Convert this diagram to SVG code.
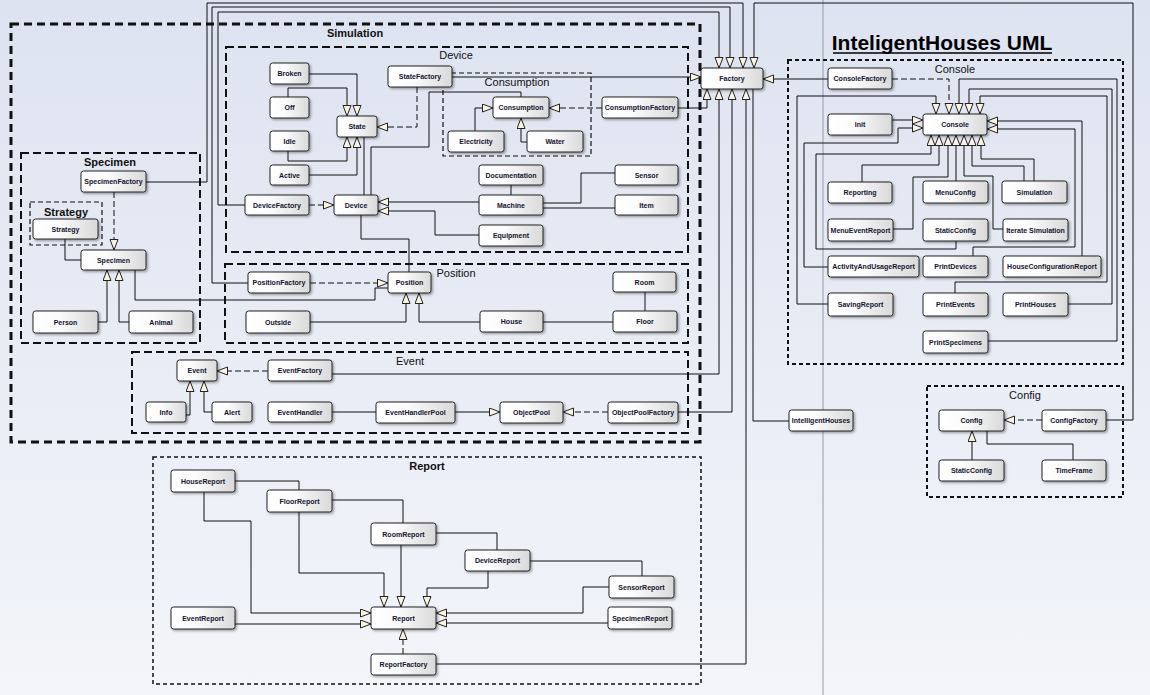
<svg xmlns="http://www.w3.org/2000/svg" width="1150" height="695" viewBox="0 0 1150 695">
<defs>
<linearGradient id="bg" x1="0" y1="0" x2="0" y2="1"><stop offset="0" stop-color="#dde3f0"/><stop offset="1" stop-color="#f3f5fa"/></linearGradient>
<linearGradient id="ng" x1="0" y1="0" x2="1" y2="0"><stop offset="0" stop-color="#ffffff"/><stop offset="0.4" stop-color="#fbfbfb"/><stop offset="1" stop-color="#d9d9d9"/></linearGradient>
<filter id="sh" x="-10%" y="-20%" width="130%" height="160%"><feDropShadow dx="1.5" dy="1.5" stdDeviation="0.8" flood-color="#000" flood-opacity="0.35"/></filter>
<marker id="gen" markerUnits="userSpaceOnUse" markerWidth="13" markerHeight="10" refX="11" refY="4.5" orient="auto"><path d="M0.5,0.5 L11,4.5 L0.5,8.5 Z" fill="#fbf3e2" stroke="#222" stroke-width="1"/></marker>
<style>
.node{fill:url(#ng);stroke:#222;stroke-width:1;filter:url(#sh)}
.lbl{font-family:"Liberation Sans",Arial,sans-serif;font-size:7px;font-weight:bold;fill:#141430;text-anchor:middle}
.pk{fill:none;stroke:#111}
.pl{font-family:"Liberation Sans",Arial,sans-serif;font-size:11px;fill:#111;text-anchor:middle}
.plb{font-weight:bold}
.c{fill:none;stroke:#111;stroke-width:1}
.g{marker-end:url(#gen)}
.d{stroke-dasharray:6 3}
</style>
</defs>
<rect x="0" y="0" width="1150" height="695" fill="url(#bg)"/>
<line x1="823" y1="0" x2="823" y2="695" stroke="#9a9ca6" stroke-width="1"/>
<g id="title"><text x="942" y="50" font-family="'Liberation Sans',Arial,sans-serif" font-size="21" font-weight="bold" fill="#000" text-anchor="middle">InteligentHouses UML</text><line x1="833" y1="53" x2="1052" y2="53" stroke="#000" stroke-width="1.5"/></g>
<g id="packages">
<rect class="pk" x="11" y="24" width="689" height="418" stroke-width="3" stroke-dasharray="8 5"/>
<text class="pl plb" x="355" y="37">Simulation</text>
<rect class="pk" x="226" y="47" width="462" height="205" stroke-width="2" stroke-dasharray="8 4"/>
<text class="pl" x="456" y="59">Device</text>
<rect class="pk" x="443" y="73" width="148" height="83" stroke-width="1.2" stroke-dasharray="5 3"/>
<text class="pl" x="517" y="86">Consumption</text>
<rect class="pk" x="225" y="264" width="463" height="79" stroke-width="2" stroke-dasharray="8 4"/>
<text class="pl" x="456" y="277">Position</text>
<rect class="pk" x="132" y="352" width="556" height="81" stroke-width="2" stroke-dasharray="8 4"/>
<text class="pl" x="410" y="365">Event</text>
<rect class="pk" x="21" y="153" width="179" height="190" stroke-width="2" stroke-dasharray="8 4"/>
<text class="pl plb" x="110" y="166">Specimen</text>
<rect class="pk" x="30" y="202" width="72" height="43" stroke-width="1.2" stroke-dasharray="5 3"/>
<text class="pl plb" x="66" y="216">Strategy</text>
<rect class="pk" x="788" y="60" width="335" height="304" stroke-width="2" stroke-dasharray="4 3"/>
<text class="pl" x="955" y="73">Console</text>
<rect class="pk" x="927" y="386" width="196" height="111" stroke-width="2" stroke-dasharray="4 3"/>
<text class="pl" x="1025" y="399">Config</text>
<rect class="pk" x="153" y="457" width="548" height="227" stroke-width="1.5" stroke-dasharray="4 3"/>
<text class="pl plb" x="427" y="470">Report</text>
</g>
<g id="connectors">
<path class="c g" d="M146,182 H207 V3 H743 V68"/>
<path class="c g" d="M245,205 H218 V12 H719 V68"/>
<path class="c g" d="M248,283 H212 V7 H730 V68"/>
<path class="c g" d="M1106,420 H1133 V3 H754 V68"/>
<path class="c g" d="M452,77 H701"/>
<path class="c g" d="M678,108 H707 V89"/>
<path class="c g" d="M332,374 H719 V89"/>
<path class="c g" d="M678,412 H732 V89"/>
<path class="c g" d="M436,664 H746 V89"/>
<path class="c" d="M753,89 V421 H789"/>
<path class="c g" d="M828,79 H763"/>
<path class="c g" d="M309,74 H357 V116"/>
<path class="c g" d="M288,97 V88 H347 V116"/>
<path class="c g" d="M288,151 V161 H347 V137"/>
<path class="c g" d="M309,175 H357 V137"/>
<path class="c g d" d="M417,87 V127 H377"/>
<path class="c" d="M364,195 V137"/>
<path class="c" d="M371,195 V147 H429 V92 H521 V97"/>
<path class="c g" d="M475,131 V108 H493"/>
<path class="c g" d="M527,142 H521 V118"/>
<path class="c g d" d="M602,108 H549"/>
<path class="c g" d="M479,202 H378"/>
<path class="c g" d="M479,235 H435 V211 H378"/>
<path class="c" d="M511,185 V195"/>
<path class="c" d="M543,203 H581 V173 H615"/>
<path class="c" d="M543,208 H615"/>
<path class="c g d" d="M309,205 H334"/>
<path class="c" d="M361,215 V239 H409 V272"/>
<path class="c g d" d="M114,192 V250"/>
<path class="c" d="M65,239 V260 H81"/>
<path class="c g" d="M98,322 H107 V270"/>
<path class="c g" d="M129,322 H119 V270"/>
<path class="c" d="M135,270 V300 H375 V288 H388"/>
<path class="c g d" d="M310,283 H388"/>
<path class="c g" d="M310,322 H406 V293"/>
<path class="c g" d="M480,322 H419 V293"/>
<path class="c" d="M543,322 H613"/>
<path class="c" d="M645,292 V311"/>
<path class="c g d" d="M268,371 H217"/>
<path class="c g" d="M186,415 H190 V381"/>
<path class="c g" d="M212,412 H204 V381"/>
<path class="c" d="M332,412 H376"/>
<path class="c g" d="M455,412 H500"/>
<path class="c g d" d="M608,412 H563"/>
<path class="c g d" d="M892,79 H949 V114"/>
<path class="c g" d="M828,304 H797 V96 H936 V114"/>
<path class="c g" d="M988,341 H1117 V79 H959 V114"/>
<path class="c g" d="M1068,304 H1112 V89 H969 V114"/>
<path class="c g" d="M955,293 V282 H1107 V96 H980 V114"/>
<path class="c g" d="M892,120 H923"/>
<path class="c g" d="M828,267 H804 V143 H898 V128 H923"/>
<path class="c g" d="M1082,256 V121 H987"/>
<path class="c g" d="M973,256 V247 H1075 V129 H987"/>
<path class="c g" d="M956,241 V249 H816 V154 H931 V135"/>
<path class="c g" d="M862,182 V165 H939 V135"/>
<path class="c g" d="M893,229 H913 V177 H948 V135"/>
<path class="c g" d="M956,181 V135"/>
<path class="c g" d="M1003,229 H993 V176 H964 V135"/>
<path class="c g" d="M1024,181 V166 H972 V135"/>
<path class="c g" d="M1034,181 V159 H981 V135"/>
<path class="c g d" d="M1042,420 H1004"/>
<path class="c g" d="M972,460 V431"/>
<path class="c" d="M1073,460 V444 H987 V431"/>
<path class="c" d="M235,481 H299 V490"/>
<path class="c" d="M332,500 H403 V523"/>
<path class="c" d="M436,533 H497 V550"/>
<path class="c" d="M530,561 H642 V576"/>
<path class="c g" d="M204,492 V521 H251 V613 H371"/>
<path class="c g" d="M235,624 H371"/>
<path class="c g" d="M299,512 V573 H384 V607"/>
<path class="c g" d="M401,545 V607"/>
<path class="c g" d="M488,571 V588 H427 V607"/>
<path class="c g" d="M609,587 H583 V613 H436"/>
<path class="c g" d="M608,623 H436"/>
<path class="c g d" d="M403,654 V629"/>
</g>
<g id="n-broken"><rect class="node" x="270" y="63" width="39" height="21" rx="2.5"/><text class="lbl" x="289.5" y="76">Broken</text></g>
<g id="n-off"><rect class="node" x="270" y="97" width="39" height="21" rx="2.5"/><text class="lbl" x="289.5" y="110">Off</text></g>
<g id="n-idle"><rect class="node" x="270" y="131" width="39" height="20" rx="2.5"/><text class="lbl" x="289.5" y="143.5">Idle</text></g>
<g id="n-active"><rect class="node" x="270" y="165" width="39" height="20" rx="2.5"/><text class="lbl" x="289.5" y="177.5">Active</text></g>
<g id="n-state"><rect class="node" x="337" y="116" width="40" height="21" rx="2.5"/><text class="lbl" x="357" y="129">State</text></g>
<g id="n-statefactory"><rect class="node" x="388" y="66" width="64" height="21" rx="2.5"/><text class="lbl" x="420" y="79">StateFactory</text></g>
<g id="n-consumption"><rect class="node" x="493" y="97" width="56" height="21" rx="2.5"/><text class="lbl" x="521" y="110">Consumption</text></g>
<g id="n-electricity"><rect class="node" x="448" y="131" width="56" height="21" rx="2.5"/><text class="lbl" x="476" y="144">Electricity</text></g>
<g id="n-water"><rect class="node" x="527" y="131" width="56" height="21" rx="2.5"/><text class="lbl" x="555" y="144">Water</text></g>
<g id="n-consumptionfactory"><rect class="node" x="602" y="97" width="76" height="21" rx="2.5"/><text class="lbl" x="640" y="110">ConsumptionFactory</text></g>
<g id="n-documentation"><rect class="node" x="479" y="165" width="64" height="20" rx="2.5"/><text class="lbl" x="511" y="177.5">Documentation</text></g>
<g id="n-machine"><rect class="node" x="479" y="195" width="64" height="20" rx="2.5"/><text class="lbl" x="511" y="207.5">Machine</text></g>
<g id="n-equipment"><rect class="node" x="479" y="225" width="64" height="21" rx="2.5"/><text class="lbl" x="511" y="238">Equipment</text></g>
<g id="n-sensor"><rect class="node" x="615" y="165" width="63" height="20" rx="2.5"/><text class="lbl" x="646.5" y="177.5">Sensor</text></g>
<g id="n-item"><rect class="node" x="615" y="195" width="63" height="20" rx="2.5"/><text class="lbl" x="646.5" y="207.5">Item</text></g>
<g id="n-devicefactory"><rect class="node" x="245" y="195" width="64" height="20" rx="2.5"/><text class="lbl" x="277" y="207.5">DeviceFactory</text></g>
<g id="n-device"><rect class="node" x="334" y="195" width="44" height="20" rx="2.5"/><text class="lbl" x="356" y="207.5">Device</text></g>
<g id="n-specimenfactory"><rect class="node" x="81" y="171" width="65" height="21" rx="2.5"/><text class="lbl" x="113.5" y="184">SpecimenFactory</text></g>
<g id="n-strategy"><rect class="node" x="33" y="219" width="65" height="20" rx="2.5"/><text class="lbl" x="65.5" y="231.5">Strategy</text></g>
<g id="n-specimen"><rect class="node" x="81" y="250" width="65" height="20" rx="2.5"/><text class="lbl" x="113.5" y="262.5">Specimen</text></g>
<g id="n-person"><rect class="node" x="33" y="311" width="65" height="22" rx="2.5"/><text class="lbl" x="65.5" y="324.5">Person</text></g>
<g id="n-animal"><rect class="node" x="129" y="311" width="64" height="22" rx="2.5"/><text class="lbl" x="161" y="324.5">Animal</text></g>
<g id="n-positionfactory"><rect class="node" x="248" y="272" width="62" height="21" rx="2.5"/><text class="lbl" x="279" y="285">PositionFactory</text></g>
<g id="n-position"><rect class="node" x="388" y="272" width="43" height="21" rx="2.5"/><text class="lbl" x="409.5" y="285">Position</text></g>
<g id="n-outside"><rect class="node" x="246" y="311" width="64" height="22" rx="2.5"/><text class="lbl" x="278" y="324.5">Outside</text></g>
<g id="n-house"><rect class="node" x="480" y="311" width="63" height="21" rx="2.5"/><text class="lbl" x="511.5" y="324">House</text></g>
<g id="n-room"><rect class="node" x="613" y="272" width="63" height="20" rx="2.5"/><text class="lbl" x="644.5" y="284.5">Room</text></g>
<g id="n-floor"><rect class="node" x="613" y="311" width="64" height="21" rx="2.5"/><text class="lbl" x="645" y="324">Floor</text></g>
<g id="n-event"><rect class="node" x="177" y="360" width="40" height="21" rx="2.5"/><text class="lbl" x="197" y="373">Event</text></g>
<g id="n-eventfactory"><rect class="node" x="268" y="360" width="64" height="21" rx="2.5"/><text class="lbl" x="300" y="373">EventFactory</text></g>
<g id="n-info"><rect class="node" x="146" y="402" width="40" height="20" rx="2.5"/><text class="lbl" x="166" y="414.5">Info</text></g>
<g id="n-alert"><rect class="node" x="212" y="402" width="40" height="20" rx="2.5"/><text class="lbl" x="232" y="414.5">Alert</text></g>
<g id="n-eventhandler"><rect class="node" x="268" y="402" width="64" height="20" rx="2.5"/><text class="lbl" x="300" y="414.5">EventHandler</text></g>
<g id="n-eventhandlerpool"><rect class="node" x="376" y="402" width="79" height="21" rx="2.5"/><text class="lbl" x="415.5" y="415">EventHandlerPool</text></g>
<g id="n-objectpool"><rect class="node" x="500" y="402" width="63" height="21" rx="2.5"/><text class="lbl" x="531.5" y="415">ObjectPool</text></g>
<g id="n-objectpoolfactory"><rect class="node" x="608" y="402" width="70" height="21" rx="2.5"/><text class="lbl" x="643" y="415">ObjectPoolFactory</text></g>
<g id="n-factory"><rect class="node" x="701" y="68" width="62" height="21" rx="2.5"/><text class="lbl" x="732" y="81">Factory</text></g>
<g id="n-intelligenthouses"><rect class="node" x="789" y="410" width="64" height="21" rx="2.5"/><text class="lbl" x="821" y="423">IntelligentHouses</text></g>
<g id="n-consolefactory"><rect class="node" x="828" y="68" width="64" height="21" rx="2.5"/><text class="lbl" x="860" y="81">ConsoleFactory</text></g>
<g id="n-init"><rect class="node" x="828" y="114" width="64" height="21" rx="2.5"/><text class="lbl" x="860" y="127">Init</text></g>
<g id="n-console"><rect class="node" x="923" y="114" width="64" height="21" rx="2.5"/><text class="lbl" x="955" y="127">Console</text></g>
<g id="n-reporting"><rect class="node" x="828" y="182" width="64" height="21" rx="2.5"/><text class="lbl" x="860" y="195">Reporting</text></g>
<g id="n-menuconfig"><rect class="node" x="923" y="181" width="65" height="22" rx="2.5"/><text class="lbl" x="955.5" y="194.5">MenuConfig</text></g>
<g id="n-simulation"><rect class="node" x="1002" y="181" width="65" height="22" rx="2.5"/><text class="lbl" x="1034.5" y="194.5">Simulation</text></g>
<g id="n-menueventreport"><rect class="node" x="828" y="219" width="65" height="22" rx="2.5"/><text class="lbl" x="860.5" y="232.5">MenuEventReport</text></g>
<g id="n-staticconfig"><rect class="node" x="923" y="219" width="65" height="22" rx="2.5"/><text class="lbl" x="955.5" y="232.5">StaticConfig</text></g>
<g id="n-iteratesimulation"><rect class="node" x="1003" y="219" width="65" height="22" rx="2.5"/><text class="lbl" x="1035.5" y="232.5">Iterate Simulation</text></g>
<g id="n-activityandusagereport"><rect class="node" x="828" y="256" width="91" height="21" rx="2.5"/><text class="lbl" x="873.5" y="269">ActivityAndUsageReport</text></g>
<g id="n-printdevices"><rect class="node" x="923" y="256" width="65" height="21" rx="2.5"/><text class="lbl" x="955.5" y="269">PrintDevices</text></g>
<g id="n-houseconfigurationreport"><rect class="node" x="1003" y="256" width="98" height="21" rx="2.5"/><text class="lbl" x="1052" y="269">HouseConfigurationReport</text></g>
<g id="n-savingreport"><rect class="node" x="828" y="293" width="65" height="23" rx="2.5"/><text class="lbl" x="860.5" y="307">SavingReport</text></g>
<g id="n-printevents"><rect class="node" x="923" y="293" width="65" height="23" rx="2.5"/><text class="lbl" x="955.5" y="307">PrintEvents</text></g>
<g id="n-printhouses"><rect class="node" x="1003" y="293" width="65" height="23" rx="2.5"/><text class="lbl" x="1035.5" y="307">PrintHouses</text></g>
<g id="n-printspecimens"><rect class="node" x="923" y="331" width="65" height="22" rx="2.5"/><text class="lbl" x="955.5" y="344.5">PrintSpecimens</text></g>
<g id="n-config"><rect class="node" x="939" y="410" width="65" height="21" rx="2.5"/><text class="lbl" x="971.5" y="423">Config</text></g>
<g id="n-configfactory"><rect class="node" x="1042" y="410" width="64" height="21" rx="2.5"/><text class="lbl" x="1074" y="423">ConfigFactory</text></g>
<g id="n-staticconfig2"><rect class="node" x="939" y="460" width="65" height="21" rx="2.5"/><text class="lbl" x="971.5" y="473">StaticConfig</text></g>
<g id="n-timeframe"><rect class="node" x="1042" y="460" width="64" height="21" rx="2.5"/><text class="lbl" x="1074" y="473">TimeFrame</text></g>
<g id="n-housereport"><rect class="node" x="171" y="470" width="64" height="22" rx="2.5"/><text class="lbl" x="203" y="483.5">HouseReport</text></g>
<g id="n-floorreport"><rect class="node" x="267" y="490" width="65" height="22" rx="2.5"/><text class="lbl" x="299.5" y="503.5">FloorReport</text></g>
<g id="n-roomreport"><rect class="node" x="371" y="523" width="65" height="22" rx="2.5"/><text class="lbl" x="403.5" y="536.5">RoomReport</text></g>
<g id="n-devicereport"><rect class="node" x="465" y="550" width="65" height="21" rx="2.5"/><text class="lbl" x="497.5" y="563">DeviceReport</text></g>
<g id="n-sensorreport"><rect class="node" x="609" y="576" width="65" height="22" rx="2.5"/><text class="lbl" x="641.5" y="589.5">SensorReport</text></g>
<g id="n-specimenreport"><rect class="node" x="608" y="607" width="64" height="22" rx="2.5"/><text class="lbl" x="640" y="620.5">SpecimenReport</text></g>
<g id="n-report"><rect class="node" x="371" y="607" width="65" height="22" rx="2.5"/><text class="lbl" x="403.5" y="620.5">Report</text></g>
<g id="n-eventreport"><rect class="node" x="171" y="607" width="64" height="22" rx="2.5"/><text class="lbl" x="203" y="620.5">EventReport</text></g>
<g id="n-reportfactory"><rect class="node" x="371" y="654" width="65" height="21" rx="2.5"/><text class="lbl" x="403.5" y="667">ReportFactory</text></g>
</svg>
